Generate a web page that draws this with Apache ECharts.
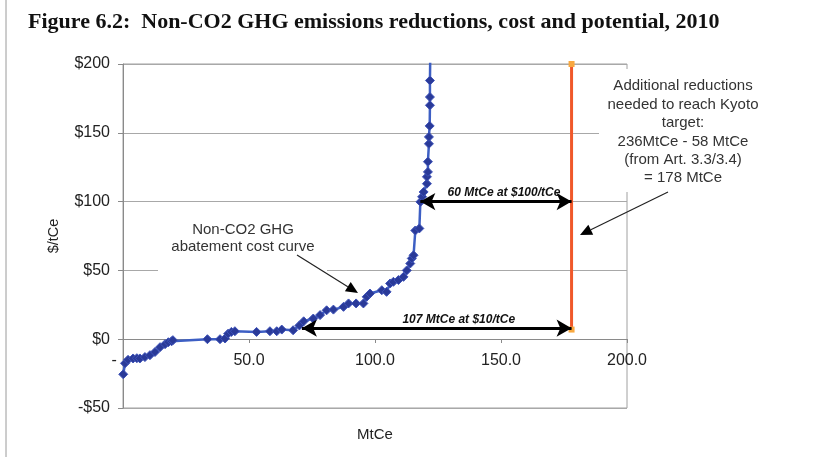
<!DOCTYPE html>
<html>
<head>
<meta charset="utf-8">
<script src="https://cdn.jsdelivr.net/npm/echarts@6/dist/echarts.min.js"></script>
<style>
  html, body { margin: 0; padding: 0; background: #fff; }
  #chart { width: 838px; height: 457px; }
</style>
</head>
<body>
<div id="chart"></div>
<script>
// abatement cost curve: [MtCe, $/tCe]
const curvePoints = [
  [0.1, -25.5], [0.8, -17.5], [2, -15], [4, -14], [5.5, -13.8], [6.7, -14], [8.7, -13], [10.7, -11.6],
  [12.7, -9.3], [14.7, -5.8], [16.7, -3.6], [18, -2.2], [19.3, -1.5], [19.8, -0.7], [33.5, 0], [38.5, 0],
  [40.5, 0.5], [41.7, 4], [43, 5.3], [44.4, 5.8], [53, 5.3], [58.3, 5.8], [61, 5.8], [63, 7],
  [67.5, 6.5], [70, 10], [71.7, 13], [75.5, 15], [78.2, 17.5], [80.8, 21], [83.5, 21.5], [87.5, 23.5],
  [89.5, 26], [92.5, 26], [95.4, 26], [96.7, 30.8], [98, 33.2], [102.7, 35.6], [104.6, 34.4], [106, 40.5],
  [107.3, 41.7], [109.3, 43], [111.3, 45.3], [112.6, 50], [114, 55], [114.6, 58.7], [115.3, 61],
  [116, 79], [117.6, 80.5], [118, 99.8], [118.7, 103.5], [119.3, 107], [120.6, 113], [120.6, 118],
  [121, 121.6], [121, 129], [121.4, 142], [121.4, 147], [121.7, 155], [121.8, 170], [121.8, 176],
  [121.8, 188], [122, 215]
];
// Kyoto gap line
const kyotoPoints = [[178, 7], [178, 200]];
// arrows with data meaning
const arrow100 = [[118, 100], [178, 100]];
const arrow10 = [[71, 8], [178, 8]];
const arrowLabels = ['60 MtCe at $100/tCe', '107 MtCe at $10/tCe'];
const kyotoNote = ['Additional reductions', 'needed to reach Kyoto', 'target:', '236MtCe - 58 MtCe', '(from Art. 3.3/3.4)', '= 178 MtCe'];
const curveNote = ['Non-CO2 GHG', 'abatement cost curve'];

const chart = echarts.init(document.getElementById('chart'));

// pointer arrow drawn in pixels (callouts)
function pointer (x1, y1, x2, y2) {
  const a = Math.atan2(y2 - y1, x2 - x1);
  const len = 12, w = 5.5;
  const bx = x2 - len * Math.cos(a), by = y2 - len * Math.sin(a);
  return [
    { type: 'line', z: 110, shape: { x1: x1, y1: y1, x2: bx, y2: by }, style: { stroke: '#222', lineWidth: 1.2 } },
    {
      type: 'polygon', z: 110,
      shape: { points: [[x2, y2], [bx + w * Math.sin(a), by - w * Math.cos(a)], [bx - w * Math.sin(a), by + w * Math.cos(a)]] },
      style: { fill: '#000' }
    }
  ];
}

const option = {
  animation: false,
  title: {
    text: 'Figure 6.2:  Non-CO2 GHG emissions reductions, cost and potential, 2010',
    left: 23,
    top: 6,
    textStyle: { fontFamily: 'Liberation Serif', fontWeight: 'bold', fontSize: 22, color: '#111' }
  },
  grid: {
    left: 123, right: 211, top: 64, bottom: 49,
    outerBoundsMode: 'none',
    containLabel: false,
    show: true, borderColor: '#a0a0a0', borderWidth: 1
  },
  xAxis: {
    type: 'value',
    min: 0, max: 200, interval: 50,
    position: 'bottom',
    offset: -69, // sits on the $0 line
    name: 'MtCe',
    nameLocation: 'middle',
    nameGap: 88,
    nameTextStyle: { fontFamily: 'Liberation Sans', fontSize: 15, color: '#222' },
    axisLine: { onZero: false, lineStyle: { color: '#8a8a8a' } },
    axisTick: { show: true, length: 4, lineStyle: { color: '#8a8a8a' } },
    splitLine: { show: false },
    axisLabel: {
      margin: 14,
      fontFamily: 'Liberation Sans', fontSize: 16, color: '#222',
      showMaxLabel: true,
      formatter: v => (v === 0 ? '-    ' : v.toFixed(1))
    }
  },
  yAxis: {
    type: 'value',
    min: -50, max: 200, interval: 50,
    name: '$/tCe',
    nameLocation: 'middle',
    nameGap: 62,
    nameTextStyle: { fontFamily: 'Liberation Sans', fontSize: 14.5, color: '#222' },
    axisLine: { show: true, onZero: false, lineStyle: { color: '#8a8a8a' } },
    axisTick: { show: true, length: 5, lineStyle: { color: '#8a8a8a' } },
    splitLine: { lineStyle: { color: '#a8a8a8' } },
    axisLabel: {
      margin: 13,
      fontFamily: 'Liberation Sans', fontSize: 16, color: '#222',
      formatter: v => (v < 0 ? '-$' + (-v) : '$' + v)
    }
  },
  series: [
    {
      name: 'curve',
      type: 'line',
      data: curvePoints,
      clip: true,
      symbol: 'diamond',
      symbolSize: 9,
      lineStyle: { color: '#3d5fc4', width: 2.5 },
      itemStyle: { color: '#2a3a98', borderColor: '#3d52b8', borderWidth: 1 },
      z: 5
    },
    {
      name: 'kyoto',
      type: 'line',
      data: kyotoPoints,
      symbol: 'rect',
      symbolSize: 6,
      lineStyle: { color: '#f0582a', width: 3 },
      itemStyle: { color: '#f8a840' },
      z: 4,
      markLine: {
        silent: true,
        symbol: ['arrow', 'arrow'],
        symbolSize: [13, 15],
        lineStyle: { color: '#000', width: 3, type: 'solid' },
        label: {
          show: true,
          position: 'middle',
          distance: 3,
          fontFamily: 'Liberation Sans', fontSize: 12, fontWeight: 'bold', fontStyle: 'italic', color: '#111'
        },
        data: [
          [{ coord: arrow100[0], name: arrowLabels[0], label: { offset: [8, 0] } }, { coord: arrow100[1] }],
          [{ coord: arrow10[0], name: arrowLabels[1], label: { offset: [22, 0] } }, { coord: arrow10[1] }]
        ],
        z: 6
      }
    }
  ],
  graphic: [
    { type: 'line', shape: { x1: 6, y1: 0, x2: 6, y2: 457 }, style: { stroke: '#9a9a9a', lineWidth: 1 } },
    { type: 'rect', z: 100, shape: { x: 158, y: 212, width: 169, height: 62 }, style: { fill: '#fff' } },
    {
      type: 'text', z: 105,
      style: {
        text: curveNote.join('\n'), x: 243, y: 221, align: 'center', verticalAlign: 'top',
        font: '15px "Liberation Sans"', lineHeight: 17, fill: '#333'
      }
    },
    { type: 'rect', z: 100, shape: { x: 599, y: 69, width: 168, height: 123 }, style: { fill: '#fff' } },
    {
      type: 'text', z: 105,
      style: {
        text: kyotoNote.join('\n'), x: 683, y: 77, align: 'center', verticalAlign: 'top',
        font: '15px "Liberation Sans"', lineHeight: 18.4, fill: '#333'
      }
    }
  ].concat(pointer(297, 255, 358, 293), pointer(668, 192, 580, 235))
};
chart.setOption(option);
</script>
</body>
</html>
